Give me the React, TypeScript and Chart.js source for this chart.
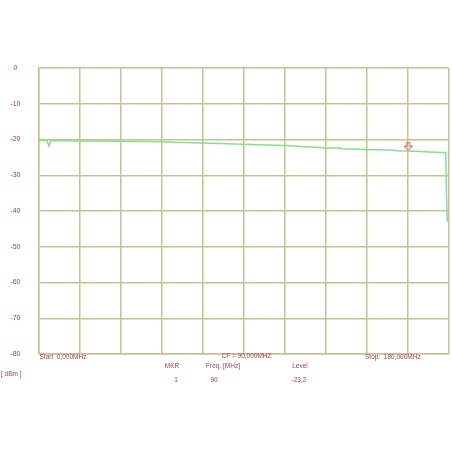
import React, { useEffect, useRef } from "react";
import { Chart, registerables } from "chart.js";

Chart.register(...registerables);

// ---- data ----
const freqMHz = [0, 3.7, 4.6, 5.4, 18, 36, 54, 60, 72, 90, 108, 126, 132.5, 133.5, 144, 156, 158.5, 162.3, 178.8, 179.1, 179.5];
const levelDbm = [-20.2, -20.3, -21.8, -20.3, -20.4, -20.5, -20.6, -20.8, -21.0, -21.3, -21.7, -22.4, -22.4, -22.6, -22.8, -23.0, -23.2, -23.2, -23.7, -35.0, -43.0];
const markerFreq = [162.3];
const markerLevel = [-22.0];
const yTicks = [0, -10, -20, -30, -40, -50, -60, -70, -80];
const xMin = 0;
const xMax = 180;
const xStep = 18;
const startLabel = "Start  0,000MHz";
const cfLabel = "CF = 90,000MHZ";
const stopLabel = "Stop:  180,000MHz";
const unitLabel = "[ dBm ]";
const tableHeaders = ["MKR", "Freq. [MHz]", "Level"];
const tableValues = ["1", "90", "-23,2"];

const RED = "#a8414a";
const GRID = "#c6c392";
const TRACE = "#86e08a";
const FONT = '"Liberation Sans", Arial, sans-serif';

function makeMarkerImage(): HTMLCanvasElement {
  const c = document.createElement("canvas");
  c.width = 9;
  c.height = 10;
  const g = c.getContext("2d")!;
  g.strokeStyle = "#c8505c";
  g.lineWidth = 1;
  g.beginPath();
  g.moveTo(3, 0.5);
  g.lineTo(6, 0.5);
  g.lineTo(6, 4.5);
  g.lineTo(8.5, 4.5);
  g.lineTo(4.5, 9);
  g.lineTo(0.5, 4.5);
  g.lineTo(3, 4.5);
  g.closePath();
  g.stroke();
  return c;
}

const textPlugin = {
  id: "footerTexts",
  afterDraw(chart: any) {
    const ctx = chart.ctx as CanvasRenderingContext2D;
    const { left, bottom } = chart.chartArea;
    const xs = chart.scales.x;
    ctx.save();
    ctx.fillStyle = RED;
    ctx.font = `6.5px ${FONT}`;
    ctx.textBaseline = "middle";
    ctx.textAlign = "left";
    ctx.fillText(startLabel, left + 1, bottom + 3.5);
    ctx.fillText(stopLabel, xs.getPixelForValue(144) - 1.5, bottom + 3.5);
    ctx.textAlign = "center";
    ctx.fillText(cfLabel, xs.getPixelForValue(90) + 3, bottom + 2.5);
    ctx.textAlign = "left";
    ctx.fillText(unitLabel, 1, bottom + 20);
    ctx.textAlign = "center";
    const hx = [172, 223, 300];
    const vx = [176, 214, 299];
    tableHeaders.forEach((t, i) => ctx.fillText(t, hx[i], bottom + 12));
    tableValues.forEach((t, i) => ctx.fillText(t, vx[i], bottom + 26.5));
    ctx.restore();
  },
};

export default function App() {
  const ref = useRef<HTMLCanvasElement>(null);
  useEffect(() => {
    if (!ref.current) return;
    const marker = makeMarkerImage();
    const chart = new Chart(ref.current, {
      type: "scatter",
      data: {
        datasets: [
          {
            type: "line",
            data: freqMHz.map((f, i) => ({ x: f, y: levelDbm[i] })),
            borderColor: TRACE,
            borderWidth: 1.5,
            pointRadius: 0,
            fill: false,
            tension: 0,
          },
          {
            data: markerFreq.map((f, i) => ({ x: f, y: markerLevel[i] })),
            pointStyle: marker as any,
            pointRadius: 5,
          },
        ],
      },
      options: {
        animation: false,
        responsive: false,
        devicePixelRatio: 1,
        layout: { autoPadding: false, padding: { top: 68, right: 3.5, bottom: 98, left: 0 } },
        plugins: { legend: { display: false }, tooltip: { enabled: false } },
        scales: {
          x: {
            type: "linear",
            min: xMin,
            max: xMax,
            ticks: { display: false, stepSize: xStep },
            grid: { color: GRID, lineWidth: 1.5, drawTicks: false },
            border: { color: GRID, width: 1.5 },
            afterFit: (s: any) => {
              s.height = 0;
              s.paddingRight = 0;
              s.paddingLeft = 0;
            },
          },
          y: {
            min: -80,
            max: 0,
            afterBuildTicks: (s: any) => {
              s.ticks = yTicks.map((v) => ({ value: v }));
            },
            ticks: {
              color: RED,
              font: { family: FONT, size: 7 },
              crossAlign: "center",
              padding: 18,
            },
            grid: { color: GRID, lineWidth: 1.5, drawTicks: false },
            border: { color: GRID, width: 1.5 },
            afterFit: (s: any) => {
              s.width = 38.5;
            },
          },
        },
      },
      plugins: [textPlugin],
    });
    return () => chart.destroy();
  }, []);
  return (
    <div style={{ position: "absolute", left: 0, top: 0, width: 452, height: 452, background: "#fff" }}>
      <canvas ref={ref} width={452} height={452} />
    </div>
  );
}
